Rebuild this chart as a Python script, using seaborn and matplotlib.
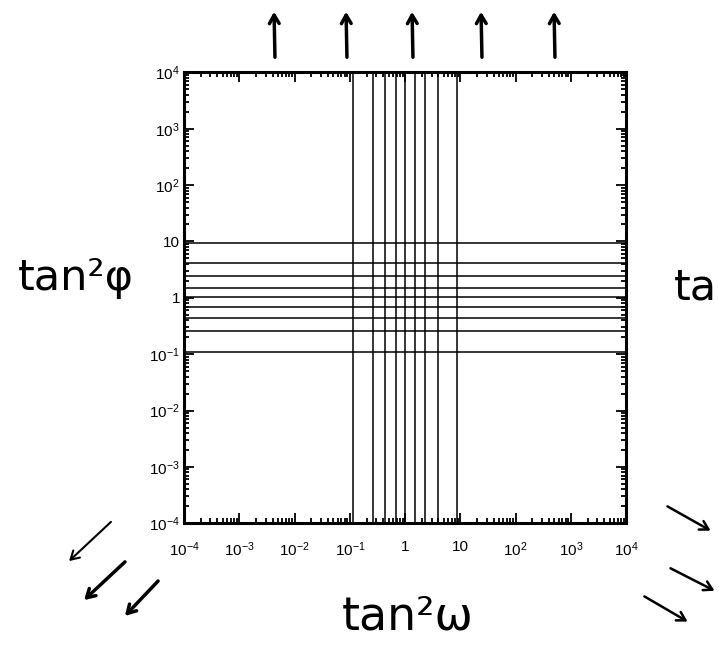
import numpy as np
import pandas as pd
import matplotlib
matplotlib.use('Agg')
import matplotlib.pyplot as plt
import seaborn as sns

# positions of the grid lines
omega_lines = [0.115, 0.26, 0.44, 0.68, 1.0, 1.52, 2.33, 3.85, 8.85]
phi_lines = [0.111, 0.26, 0.447, 0.70, 1.05, 1.52, 2.39, 4.13, 9.4]
decades = [1e-4, 1e-3, 1e-2, 1e-1, 1, 10, 1e2, 1e3, 1e4]
tick_labels = ['$10^{-4}$', '$10^{-3}$', '$10^{-2}$', '$10^{-1}$', '1', '10',
               '$10^{2}$', '$10^{3}$', '$10^{4}$']
lo, hi = decades[0], decades[-1]

sns.set_style('ticks')
plt.rcParams['font.family'] = ['Liberation Sans', 'DejaVu Sans']
plt.rcParams['mathtext.fontset'] = 'custom'
plt.rcParams['mathtext.rm'] = 'Liberation Sans'
plt.rcParams['mathtext.it'] = 'Liberation Sans'
plt.rcParams['text.color'] = 'black'

# each line is two points joined, one per unit
vert = pd.DataFrame({'x': np.repeat(omega_lines, 2),
                     'y': [lo, hi] * len(omega_lines),
                     'line': np.repeat(range(len(omega_lines)), 2)})
horiz = pd.DataFrame({'x': [lo, hi] * len(phi_lines),
                      'y': np.repeat(phi_lines, 2),
                      'line': np.repeat(range(len(phi_lines)), 2)})

fig = plt.figure(figsize=(7.19, 6.46), dpi=100)
ax = fig.add_axes([0.256, 0.190, 0.615, 0.698])
ax.set_xscale('log')
ax.set_yscale('log')

sns.lineplot(data=vert, x='x', y='y', units='line', estimator=None, sort=False,
             color='black', lw=1.1, ax=ax, legend=False)
sns.lineplot(data=horiz, x='x', y='y', units='line', estimator=None, sort=False,
             color='black', lw=1.1, ax=ax, legend=False)

ax.set_xlim(lo, hi)
ax.set_ylim(lo, hi)
ax.set_xticks(decades)
ax.set_xticklabels(tick_labels)
ax.set_yticks(decades)
ax.set_yticklabels(tick_labels)
ax.set_xlabel('')
ax.set_ylabel('')
ax.xaxis.set_minor_locator(matplotlib.ticker.LogLocator(base=10, subs=np.arange(2, 10), numticks=20))
ax.yaxis.set_minor_locator(matplotlib.ticker.LogLocator(base=10, subs=np.arange(2, 10), numticks=20))
ax.xaxis.set_minor_formatter(matplotlib.ticker.NullFormatter())
ax.yaxis.set_minor_formatter(matplotlib.ticker.NullFormatter())
ax.tick_params(which='both', direction='in', top=True, right=True, color='black', width=1.3)
ax.tick_params(which='major', length=7, labelsize=11, labelcolor='black')
ax.tick_params(which='minor', length=3.5)
ax.tick_params(axis='x', which='major', pad=12)
ax.tick_params(axis='y', which='major', pad=3)
for s in ax.spines.values():
    s.set_visible(True)
    s.set_linewidth(2.2)
    s.set_color('black')

# hand-drawn style arrows around the frame (figure pixels)
def arrow(x0, y0, x1, y1, lw=2.5):
    ax.annotate('', xy=(x1, 646 - y1), xytext=(x0, 646 - y0),
                xycoords='figure pixels', textcoords='figure pixels',
                arrowprops=dict(arrowstyle='->,head_length=0.6,head_width=0.35',
                                color='black', lw=lw))

for xa in [275, 347, 413, 482, 555]:
    arrow(xa, 60, xa - 1, 9)
arrow(113, 520, 67, 563, lw=1.5)
arrow(127, 560, 82, 602)
arrow(160, 579, 123, 618)
arrow(665, 505, 713, 532, lw=1.8)
arrow(668, 567, 717, 592, lw=1.8)
arrow(642, 595, 690, 623, lw=1.8)

fig.text(76 / 719, 1 - 278 / 646, 'tan²φ', fontsize=31, ha='center', va='center',
         color='black', family=['DejaVu Sans'])
fig.text(408 / 719, 1 - 617 / 646, 'tan²ω', fontsize=33, ha='center', va='center',
         color='black', family=['DejaVu Sans'])
fig.text(674 / 719, 1 - 288 / 646, 'ta', fontsize=31, ha='left', va='center',
         color='black', family=['DejaVu Sans'])

fig.savefig('out.png', dpi=100, facecolor='white')
